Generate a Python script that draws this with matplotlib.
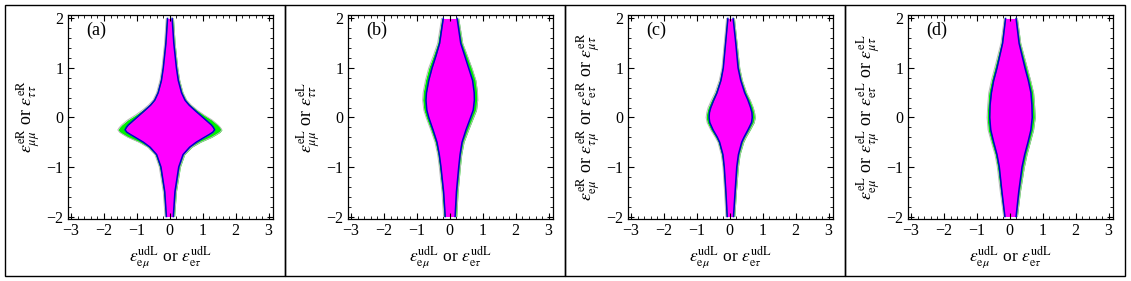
import matplotlib
matplotlib.use("Agg")
import matplotlib.pyplot as plt
from matplotlib.patches import Rectangle
from matplotlib.ticker import MultipleLocator, FuncFormatter


plt.rcParams["font.family"] = ["Liberation Serif", "DejaVu Serif"]
plt.rcParams["mathtext.fontset"] = "stix"

# 區域邊界：內層洋紅、外層綠色
Y_A = [2.0, 1.5, 1.0, 0.75, 0.5, 0.35, 0.25, 0.15, 0.05, -0.05, -0.15, -0.2,
       -0.25, -0.3, -0.35, -0.4, -0.5, -0.6, -0.75, -1.0, -1.5, -2.0]
MAG_A_L = [-0.07, -0.12, -0.20, -0.255, -0.355, -0.46, -0.585, -0.75, -0.92, -1.09,
           -1.26, -1.32, -1.36, -1.30, -1.18, -1.05, -0.80, -0.60, -0.40, -0.27,
           -0.155, -0.105]
MAG_A_R = [0.07, 0.12, 0.20, 0.255, 0.355, 0.46, 0.585, 0.75, 0.92, 1.09,
           1.26, 1.32, 1.36, 1.30, 1.18, 1.05, 0.80, 0.60, 0.40, 0.27,
           0.155, 0.105]
OUT_A_L = [-0.11, -0.16, -0.24, -0.30, -0.40, -0.51, -0.65, -0.83, -1.04, -1.28,
           -1.46, -1.53, -1.58, -1.52, -1.40, -1.27, -0.93, -0.67, -0.45, -0.32,
           -0.20, -0.145]
OUT_A_R = [0.11, 0.16, 0.24, 0.30, 0.40, 0.51, 0.65, 0.83, 1.04, 1.28,
           1.46, 1.53, 1.58, 1.52, 1.40, 1.27, 0.93, 0.67, 0.45, 0.32,
           0.20, 0.145]

Y_B = [2.0, 1.5, 1.25, 1.0, 0.75, 0.5, 0.35, 0.15, 0.0, -0.25, -0.5, -0.75,
       -1.0, -1.5, -2.0]
MAG_B_L = [-0.20, -0.31, -0.42, -0.54, -0.64, -0.71, -0.725, -0.70, -0.64, -0.51,
           -0.39, -0.32, -0.27, -0.19, -0.14]
MAG_B_R = [0.22, 0.33, 0.45, 0.57, 0.69, 0.74, 0.745, 0.71, 0.63, 0.49,
           0.37, 0.31, 0.27, 0.20, 0.16]
OUT_B_L = [-0.25, -0.37, -0.50, -0.64, -0.74, -0.81, -0.825, -0.79, -0.72, -0.58,
           -0.45, -0.37, -0.32, -0.24, -0.19]
OUT_B_R = [0.27, 0.39, 0.53, 0.67, 0.79, 0.84, 0.845, 0.81, 0.72, 0.57,
           0.43, 0.36, 0.32, 0.25, 0.21]

Y_C = [2.0, 1.5, 1.0, 0.75, 0.5, 0.35, 0.2, 0.1, 0.0, -0.1, -0.25, -0.4, -0.5,
       -0.75, -1.0, -1.5, -2.0]
MAG_C_L = [-0.06, -0.13, -0.20, -0.27, -0.39, -0.49, -0.58, -0.62, -0.63, -0.61,
           -0.51, -0.38, -0.31, -0.21, -0.17, -0.12, -0.08]
MAG_C_R = [0.10, 0.18, 0.25, 0.33, 0.45, 0.55, 0.63, 0.67, 0.68, 0.66,
           0.55, 0.43, 0.36, 0.26, 0.21, 0.16, 0.11]
OUT_C_L = [-0.10, -0.17, -0.24, -0.32, -0.45, -0.56, -0.66, -0.70, -0.72, -0.69,
           -0.58, -0.44, -0.36, -0.26, -0.21, -0.16, -0.12]
OUT_C_R = [0.14, 0.22, 0.30, 0.38, 0.51, 0.62, 0.71, 0.75, 0.77, 0.74,
           0.62, 0.49, 0.42, 0.31, 0.26, 0.20, 0.15]

Y_D = [2.0, 1.5, 1.0, 0.75, 0.5, 0.25, 0.0, -0.25, -0.5, -0.75, -1.0, -1.5, -2.0]
MAG_D_L = [-0.13, -0.22, -0.39, -0.49, -0.56, -0.60, -0.61, -0.58, -0.49, -0.39,
           -0.32, -0.24, -0.15]
MAG_D_R = [0.19, 0.28, 0.46, 0.56, 0.64, 0.67, 0.68, 0.64, 0.55, 0.45,
           0.37, 0.27, 0.19]
OUT_D_L = [-0.17, -0.27, -0.46, -0.56, -0.64, -0.67, -0.69, -0.66, -0.56, -0.45,
           -0.38, -0.29, -0.19]
OUT_D_R = [0.23, 0.33, 0.53, 0.63, 0.72, 0.75, 0.77, 0.72, 0.62, 0.52,
           0.44, 0.32, 0.23]

PANEL_TAGS = ["(a)", "(b)", "(c)", "(d)"]
X_LABEL = (r"$\varepsilon^{\mathrm{udL}}_{\mathrm{e}\mu}$ or "
           r"$\varepsilon^{\mathrm{udL}}_{\mathrm{e}\tau}$")
Y_LABELS = [
    r"$\varepsilon^{\mathrm{eR}}_{\mu\mu}$ or $\varepsilon^{\mathrm{eR}}_{\tau\tau}$",
    r"$\varepsilon^{\mathrm{eL}}_{\mu\mu}$ or $\varepsilon^{\mathrm{eL}}_{\tau\tau}$",
    r"$\varepsilon^{\mathrm{eR}}_{\mathrm{e}\mu}$ or $\varepsilon^{\mathrm{eR}}_{\tau\mu}$"
    r" or $\varepsilon^{\mathrm{eR}}_{\mathrm{e}\tau}$ or $\varepsilon^{\mathrm{eR}}_{\mu\tau}$",
    r"$\varepsilon^{\mathrm{eL}}_{\mathrm{e}\mu}$ or $\varepsilon^{\mathrm{eL}}_{\tau\mu}$"
    r" or $\varepsilon^{\mathrm{eL}}_{\mathrm{e}\tau}$ or $\varepsilon^{\mathrm{eL}}_{\mu\tau}$",
]

MAGENTA = "#ff00ff"
GREEN = "#00f000"
BLUE = "#0000cc"

W, H = 1131, 281


def minus_fmt(v, _):
    return f"{v:.0f}".replace("-", "\u2212")


def draw_panel(ax, y, mag_l, mag_r, out_l, out_r, tag, ylabel):
    ax.fill_betweenx(y, out_l, out_r, color=GREEN, lw=0)
    ax.plot(out_l, y, color="#b8b8b8", lw=0.7)
    ax.plot(out_r, y, color="#b8b8b8", lw=0.7)
    ax.fill_betweenx(y, mag_l, mag_r, color=MAGENTA, lw=0)
    ax.plot(mag_l, y, color=BLUE, lw=1.1)
    ax.plot(mag_r, y, color=BLUE, lw=1.1)

    ax.set_xlim(-3.1, 3.14)
    ax.set_ylim(-2.05, 2.07)
    ax.xaxis.set_major_locator(MultipleLocator(1))
    ax.xaxis.set_minor_locator(MultipleLocator(0.2))
    ax.yaxis.set_major_locator(MultipleLocator(1))
    ax.yaxis.set_minor_locator(MultipleLocator(0.2))
    ax.tick_params(which="both", direction="in", top=True, right=True,
                   labelsize=11.5, pad=3)
    ax.tick_params(which="major", length=4, width=0.8)
    ax.tick_params(which="minor", length=2, width=0.6)
    ax.xaxis.set_major_formatter(FuncFormatter(minus_fmt))
    ax.yaxis.set_major_formatter(FuncFormatter(minus_fmt))
    for sp in ax.spines.values():
        sp.set_linewidth(0.9)

    ax.text(0.14, 0.925, tag, transform=ax.transAxes, ha="center", va="center",
            fontsize=13)
    ax.set_xlabel(X_LABEL, fontsize=12.5)
    ax.xaxis.set_label_coords(0.5, -0.125)
    ax.xaxis.label.set_va("top")
    ax.set_ylabel(ylabel, fontsize=13)
    ax.yaxis.set_label_coords(-0.125, 0.5)


def main():
    fig = plt.figure(figsize=(W / 100, H / 100), dpi=100)

    panels = [
        (Y_A, MAG_A_L, MAG_A_R, OUT_A_L, OUT_A_R),
        (Y_B, MAG_B_L, MAG_B_R, OUT_B_L, OUT_B_R),
        (Y_C, MAG_C_L, MAG_C_R, OUT_C_L, OUT_C_R),
        (Y_D, MAG_D_L, MAG_D_R, OUT_D_L, OUT_D_R),
    ]
    for k, data in enumerate(panels):
        box_left = 5 + 280 * k
        box_right = min(box_left + 280, 1126)
        fig.add_artist(Rectangle(
            (box_left / W, 5 / H), (box_right - box_left) / W, 271 / H,
            transform=fig.transFigure, fill=False, edgecolor="black", lw=1.0,
        ))
        ax = fig.add_axes([(67.7 + 280 * k) / W, (H - 219) / H, 205.6 / W, 204 / H])
        draw_panel(ax, *data, PANEL_TAGS[k], Y_LABELS[k])

    fig.savefig("out.png", dpi=100)


if __name__ == "__main__":
    main()
